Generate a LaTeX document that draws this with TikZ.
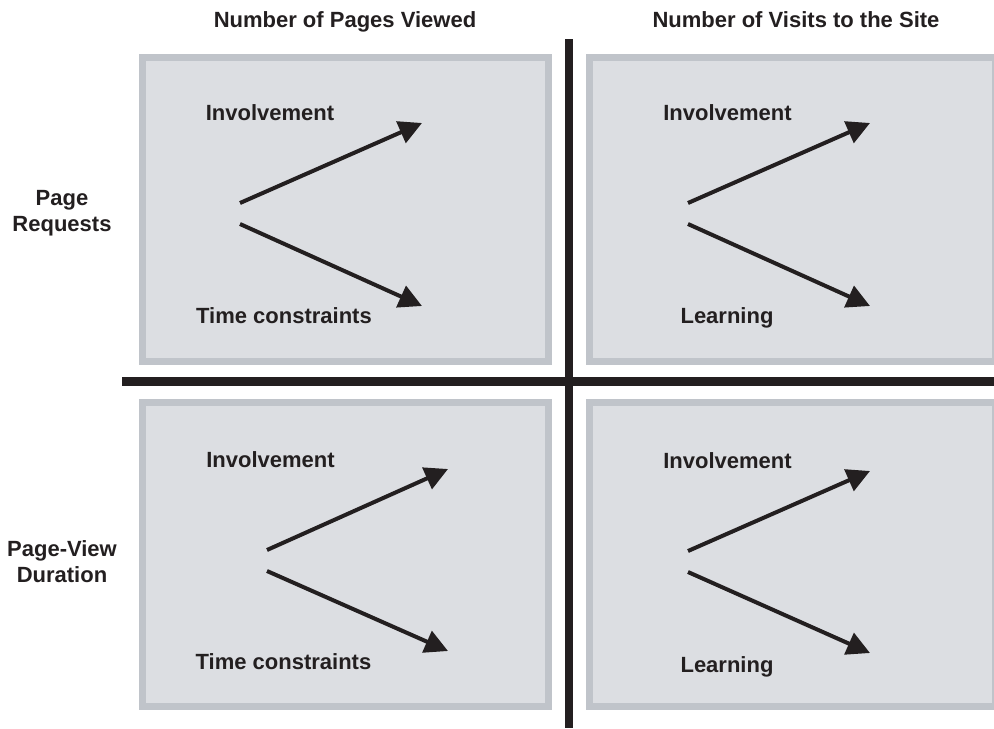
\documentclass[tikz,border=0pt]{standalone}
\usepackage{fontspec}
\setmainfont{Liberation Sans}
\usetikzlibrary{arrows.meta}
\definecolor{panelfill}{RGB}{220, 222, 226}
\definecolor{panelrim}{RGB}{192, 196, 202}
\definecolor{inkblack}{RGB}{35, 31, 32}

\begin{document}
\begin{tikzpicture}[x=0.5pt, y=-0.5pt,
        panel/.style   = {draw=panelrim, fill=panelfill, line width=3.5pt, inner sep=0pt,
                          minimum width=203pt, minimum height=152pt},
        factor/.style  = {font=\bfseries\fontsize{11}{12.75}\selectfont, text=inkblack, inner sep=0pt, anchor=base},
        heading/.style = {factor},
        rowhead/.style = {factor, align=center, anchor=center},
        divider/.style = {draw=inkblack},
        trend/.style   = {draw=inkblack, line width=2pt, -{Triangle[length=11.5pt, width=11.5pt]}}]
            \clip                                                  (  0.0,   0.0) rectangle (994.0, 728.0);
            \node[panel]   (pagesRequests)                      at (345.5, 209.5) {};
            \node[panel]   (visitsRequests)                     at (792.5, 209.5) {};
            \node[panel]   (pagesDuration)                      at (345.0, 554.5) {};
            \node[panel]   (visitsDuration)                     at (792.5, 554.5) {};
            \draw[divider, line width=4.0pt]                       (569.0,  39.0) -- (569.0, 728.0);
            \draw[divider, line width=4.5pt]                       (122.0, 381.5) -- (994.0, 381.5);
            \node[heading] (pagesHead)                          at (345.0,  27.0) {Number of Pages Viewed};
            \node[heading] (visitsHead)                         at (796.0,  27.0) {Number of Visits to the Site};
            \node[rowhead] (requestsHead)                       at ( 62.0, 213.0) {Page\\Requests};
            \node[rowhead] (durationHead)                       at ( 62.0, 561.5) {Page-View\\Duration};
            \node[factor]  (prUpText)                           at (270.0, 120.0) {Involvement};
            \node[factor]  (prDownText)                         at (284.0, 323.0) {Time constraints};
            \node[factor]  (vrUpText)                           at (727.5, 120.0) {Involvement};
            \node[factor]  (vrDownText)                         at (727.0, 323.0) {Learning};
            \node[factor]  (pdUpText)                           at (270.5, 467.0) {Involvement};
            \node[factor]  (pdDownText)                         at (283.5, 669.0) {Time constraints};
            \node[factor]  (vdUpText)                           at (727.5, 468.0) {Involvement};
            \node[factor]  (vdDownText)                         at (727.0, 672.0) {Learning};
            \coordinate    (prUpFrom)   at (240.0, 203.0);  \coordinate (prUpTo)   at (422.0, 123.0);
            \coordinate    (prDownFrom) at (240.0, 224.0);  \coordinate (prDownTo) at (422.0, 306.0);
            \coordinate    (vrUpFrom)   at (688.0, 203.0);  \coordinate (vrUpTo)   at (870.0, 123.0);
            \coordinate    (vrDownFrom) at (688.0, 224.0);  \coordinate (vrDownTo) at (870.0, 306.0);
            \coordinate    (pdUpFrom)   at (267.0, 550.0);  \coordinate (pdUpTo)   at (448.0, 469.0);
            \coordinate    (pdDownFrom) at (267.0, 571.0);  \coordinate (pdDownTo) at (448.0, 651.0);
            \coordinate    (vdUpFrom)   at (688.0, 551.0);  \coordinate (vdUpTo)   at (870.0, 471.0);
            \coordinate    (vdDownFrom) at (688.0, 572.0);  \coordinate (vdDownTo) at (870.0, 653.0);
            \draw[trend] (prUpFrom)   -- (prUpTo);
            \draw[trend] (prDownFrom) -- (prDownTo);
            \draw[trend] (vrUpFrom)   -- (vrUpTo);
            \draw[trend] (vrDownFrom) -- (vrDownTo);
            \draw[trend] (pdUpFrom)   -- (pdUpTo);
            \draw[trend] (pdDownFrom) -- (pdDownTo);
            \draw[trend] (vdUpFrom)   -- (vdUpTo);
            \draw[trend] (vdDownFrom) -- (vdDownTo);
        \end{tikzpicture}
\end{document}
